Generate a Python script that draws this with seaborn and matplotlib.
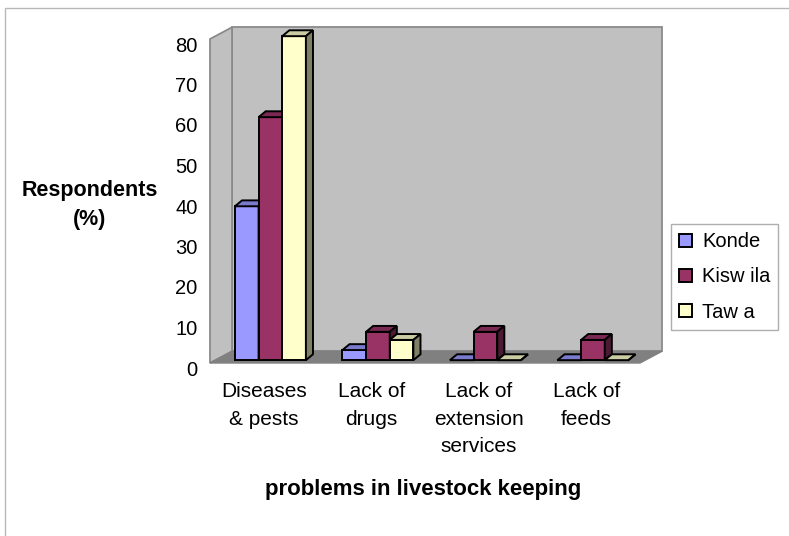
import numpy as np
import pandas as pd
import matplotlib
matplotlib.use("Agg")
import matplotlib.pyplot as plt
import matplotlib.transforms as mtransforms
from matplotlib.patches import Polygon, Rectangle, Patch
import seaborn as sns

# Survey results: share of respondents (%) naming each problem, by village
problems = ["Diseases\n& pests", "Lack of\ndrugs", "Lack of\nextension\nservices", "Lack of\nfeeds"]
sites = ["Konde", "Kisw ila", "Taw a"]
konde = [38, 2.5, 0, 0]
kiswila = [60, 7, 7, 5]
tawa = [80, 5, 0, 0]
y_ticks = [0, 10, 20, 30, 40, 50, 60, 70, 80]
site_colors = ["#9999FF", "#993366", "#FFFFCC"]

df = pd.DataFrame({
    "problem": problems * len(sites),
    "site": np.repeat(sites, len(problems)),
    "pct": konde + kiswila + tawa,
})

sns.set_theme(style="white")
plt.rcParams["font.family"] = ["Liberation Sans", "DejaVu Sans"]
plt.rcParams["text.color"] = "black"
plt.rcParams["xtick.color"] = "black"
plt.rcParams["ytick.color"] = "black"

W, H = 789, 536
fig = plt.figure(figsize=(W / 100, H / 100), dpi=100)
fig.patch.set_facecolor("white")

# front plane of the box (pixels)
x0, x1 = 210, 640
y_bot, y_top = 363, 39
ax = fig.add_axes([x0 / W, 1 - y_bot / H, (x1 - x0) / W, (y_bot - y_top) / H])
ax.set_facecolor("none")

sns.barplot(data=df, x="problem", y="pct", hue="site", order=problems,
            hue_order=sites, palette=site_colors, saturation=1, width=0.66,
            edgecolor="black", linewidth=1.4, legend=False, ax=ax)
ax.set_xlim(-0.5, 3.5)
ax.set_ylim(0, 80)

# depth of the 3-D box in data units
DX, DY = 0.205, 2.9
sx, sy = 0.062, 0.7          # bars sit a little behind the front plane
bx, by = 0.066, 1.45         # depth of each bar

wall_kw = dict(ec="#8a8a8a", lw=1.3, clip_on=False, zorder=0.5)
ax.add_patch(Rectangle((-0.5 + DX, DY), 4, 80, fc="#C0C0C0", **wall_kw))
ax.add_patch(Polygon([(-0.5, 0), (-0.5, 80), (-0.5 + DX, 80 + DY), (-0.5 + DX, DY)],
                     fc="#C0C0C0", **wall_kw))
ax.add_patch(Polygon([(-0.5, 0), (3.5, 0), (3.5 + DX, DY), (-0.5 + DX, DY)],
                     fc="#808080", ec="#808080", lw=1.0, clip_on=False, zorder=0.6))


def shade(hexcol, k):
    r, g, b = matplotlib.colors.to_rgb(hexcol)
    return (r * k, g * k, b * k)


shift = mtransforms.Affine2D().translate(sx, sy)
for i, cont in enumerate(ax.containers):
    col = site_colors[i]
    for p in cont.patches:
        x, w, h = p.get_x(), p.get_width(), p.get_height()
        z = 3 + i * 0.1
        p.set_transform(shift + ax.transData)
        p.set_zorder(z)
        p.set_clip_on(False)
        xl, xr, yb, yt = x + sx, x + w + sx, sy, h + sy
        ax.add_patch(Polygon([(xl, yt), (xr, yt), (xr + bx, yt + by), (xl + bx, yt + by)],
                             fc=shade(col, 0.8), ec="black", lw=1.4,
                             zorder=z + 0.01, clip_on=False))
        ax.add_patch(Polygon([(xr, yb), (xr, yt), (xr + bx, yt + by), (xr + bx, yb + by)],
                             fc=shade(col, 0.5), ec="black", lw=1.4,
                             zorder=z + 0.02, clip_on=False))

for s in ax.spines.values():
    s.set_visible(False)
ax.grid(False)
ax.set_xlabel("")
ax.set_ylabel("")
ax.set_yticks(y_ticks)
ax.tick_params(axis="both", length=0)
ax.tick_params(axis="y", labelsize=14.5, pad=9)
ax.tick_params(axis="x", labelsize=15, pad=14)
for lbl in ax.get_xticklabels():
    lbl.set_linespacing(1.55)
for lbl in ax.get_yticklabels():
    lbl.set_transform(lbl.get_transform() +
                      mtransforms.ScaledTranslation(0, -5 / 100, fig.dpi_scale_trans))

fig.text(90 / W, 1 - 205 / H, "Respondents\n(%)", ha="center", va="center",
         fontsize=15.5, fontweight="bold", linespacing=1.45)
fig.text(423 / W, 1 - 489 / H, "problems in livestock keeping", ha="center",
         va="center", fontsize=16, fontweight="bold")

handles = [Patch(fc=c, ec="black", lw=1.4) for c in site_colors]
leg = fig.legend(handles, sites, loc="center", bbox_to_anchor=(724.5 / W, 1 - 277 / H),
                 frameon=True, fancybox=False, edgecolor="#9a9a9a", fontsize=14.5,
                 handlelength=0.65, handleheight=0.65, handletextpad=0.5,
                 labelspacing=0.8, borderpad=0.4, borderaxespad=0)
leg.get_frame().set_linewidth(1.0)

# light outer chart border (top and left edges show)
fig.patches.append(Rectangle((5, -10), W + 10, H - 8 + 10, fill=False,
                             ec="#b8b8b8", lw=1.0, transform=None))

fig.savefig("out.png", dpi=100)
